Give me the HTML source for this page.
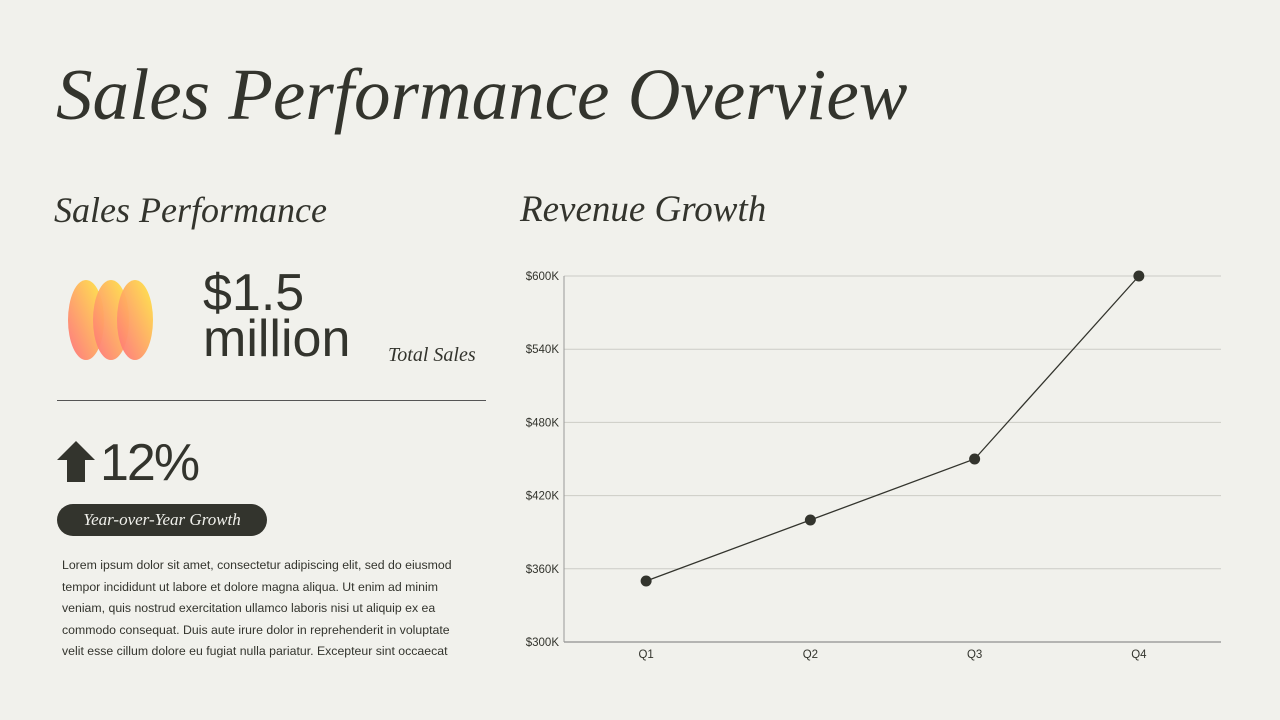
<!DOCTYPE html>
<html><head><meta charset="utf-8"><style>
body{margin:0;width:1280px;height:720px;background:#f1f1ec;font-family:"Liberation Sans",sans-serif;color:#33342d;position:relative;overflow:hidden}
.a{position:absolute;margin:0}
.serif{font-family:"Liberation Serif",serif;font-style:italic;font-weight:normal}
</style></head><body>
<h1 class="a serif" style="left:56px;top:52px;font-size:73px;letter-spacing:0px;line-height:86px">Sales Performance Overview</h1>
<h2 class="a serif" style="left:54px;top:188px;font-size:36px;line-height:44px">Sales Performance</h2>
<h2 class="a serif" style="left:520px;top:188px;font-size:37px;line-height:44px">Revenue Growth</h2>
<svg class="a" style="left:66px;top:278px" width="90" height="84">
<defs><linearGradient id="g" x1="0" y1="1" x2="1" y2="0"><stop offset="0" stop-color="#ff6f7d"/><stop offset="1" stop-color="#ffe944"/></linearGradient></defs>
<ellipse cx="20" cy="42" rx="18" ry="40" fill="url(#g)" opacity=".95"/><ellipse cx="45" cy="42" rx="18" ry="40" fill="url(#g)" opacity=".95"/><ellipse cx="69" cy="42" rx="18" ry="40" fill="url(#g)" opacity=".95"/></svg>
<div class="a" style="left:203px;top:270px;font-size:52px;line-height:46px">$1.5<br>million</div>
<div class="a serif" style="left:388px;top:344px;font-size:20px">Total Sales</div>
<div class="a" style="left:57px;top:400px;width:429px;height:1px;background:#555"></div>
<svg class="a" style="left:57px;top:441px" width="38" height="42"><path d="M19 0L38 19H28V41H10V19H0Z" fill="#33342d"/></svg>
<div class="a" style="left:100px;top:434px;font-size:52px;letter-spacing:-2px;line-height:58px">12%</div>
<div class="a serif" style="left:57px;top:504px;width:210px;height:32px;border-radius:16px;background:#33342d;color:#f1f1ec;font-size:17px;line-height:32px;text-align:center">Year-over-Year Growth</div>
<p class="a" style="left:62px;top:555px;width:410px;font-size:12.3px;line-height:21.5px">Lorem ipsum dolor sit amet, consectetur adipiscing elit, sed do eiusmod tempor incididunt ut labore et dolore magna aliqua. Ut enim ad minim veniam, quis nostrud exercitation ullamco laboris nisi ut aliquip ex ea commodo consequat. Duis aute irure dolor in reprehenderit in voluptate velit esse cillum dolore eu fugiat nulla pariatur. Excepteur sint occaecat</p>
<svg class="a" id="chart" style="left:0;top:0" width="1280" height="720"></svg>
<script>
const categories=["Q1","Q2","Q3","Q4"];
const revenue=[350,400,450,600];
const ticks=[300,360,420,480,540,600];
const tickLabels=["$300K","$360K","$420K","$480K","$540K","$600K"];
const svg=document.getElementById('chart');const NS="http://www.w3.org/2000/svg";
const x0=564,x1=1221,yTop=276,yBot=642;
const band=(x1-x0)/categories.length;
const X=i=>x0+band*(i+0.5);
const Y=v=>yBot-(v-300)/(600-300)*(yBot-yTop);
function mk(t,a){const e=document.createElementNS(NS,t);for(const k in a)e.setAttribute(k,a[k]);svg.appendChild(e);return e;}
ticks.forEach((t,i)=>{
 const l=mk('line',{x1:x0,x2:x1,y1:Y(t),y2:Y(t),stroke:i==0?'#777':'#ccccc6','stroke-width':1});
 
 
 const tx=mk('text',{x:559,y:Y(t)+4,'text-anchor':'end','font-size':11.5,fill:'#33342d','font-family':'Liberation Sans, sans-serif'});
 tx.textContent=tickLabels[i];
 
 
});
const ax=mk('line',{x1:x0,x2:x0,y1:yTop,y2:yBot,stroke:'#999','stroke-width':1});


categories.forEach((c,i)=>{
 const tx=mk('text',{x:X(i),y:658,'text-anchor':'middle','font-size':11.5,fill:'#33342d','font-family':'Liberation Sans, sans-serif'});
 tx.textContent=c;
 
 
});
const pl=mk('polyline',{points:revenue.map((v,i)=>X(i)+','+Y(v)).join(' '),fill:'none',stroke:'#33342d','stroke-width':1.3});


revenue.forEach((v,i)=>{
 const c=mk('circle',{cx:X(i),cy:Y(v),r:5.5,fill:'#33342d'});
 
 
});
</script>
</body></html>
